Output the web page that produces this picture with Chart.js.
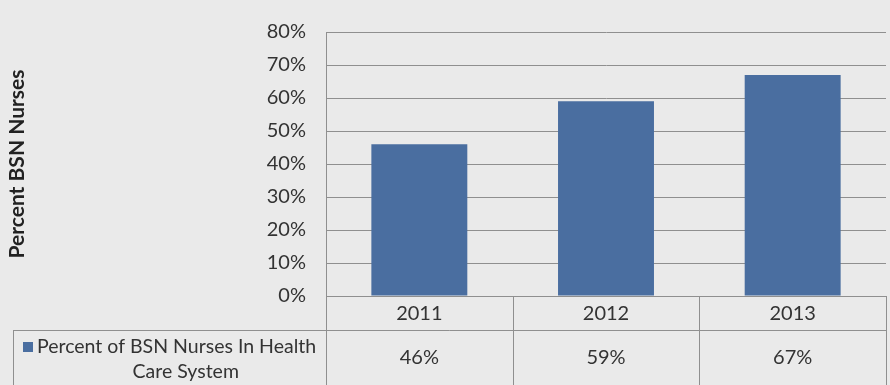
<!DOCTYPE html>
<html>
<head>
<meta charset="utf-8">
<script src="https://cdn.jsdelivr.net/npm/chart.js@4/dist/chart.umd.min.js"></script>
<style>
  html, body { margin: 0; padding: 0; background: #eaeaea; }
  #wrap { width: 890px; height: 385px; position: relative; }
</style>
</head>
<body>
<div id="wrap"><canvas id="c" width="890" height="385"></canvas></div>
<script>
// ---- data ----
const categories = ['2011', '2012', '2013'];
const values = [46, 59, 67];
const seriesName = 'Percent of BSN Nurses In Health Care System';
const legendLines = ['Percent of BSN Nurses In Health', 'Care System'];
const valueLabels = ['46%', '59%', '67%'];
const yAxisTitle = 'Percent BSN Nurses';
const yMin = 0, yMax = 80, yStep = 10;

const FONT = 'Lato, "Open Sans", sans-serif';
const TEXT = '#333333';
const LINE = '#8f8f8f';
const BAR = '#4a6ea0';

const bgPlugin = {
  id: 'bg',
  beforeDraw(chart) {
    const ctx = chart.ctx;
    ctx.save();
    ctx.fillStyle = '#eaeaea';
    ctx.fillRect(0, 0, chart.width, chart.height);
    ctx.restore();
  }
};

const tablePlugin = {
  id: 'dataTable',
  afterDraw(chart) {
    const { ctx, chartArea: ca, scales: { x } } = chart;
    const half = (x.getPixelForValue(1) - x.getPixelForValue(0)) / 2;
    const top = ca.bottom;
    const mid = top + 34;
    const bottom = chart.height + 2;
    const legendLeft = 13.5;
    ctx.save();
    ctx.strokeStyle = LINE;
    ctx.lineWidth = 1;
    ctx.beginPath();
    ctx.moveTo(ca.left, Math.round(top) + 0.5); ctx.lineTo(ca.right, Math.round(top) + 0.5);
    ctx.moveTo(legendLeft, Math.round(mid) + 0.5); ctx.lineTo(ca.right, Math.round(mid) + 0.5);
    ctx.moveTo(Math.round(ca.left) + 0.5, top); ctx.lineTo(Math.round(ca.left) + 0.5, bottom);
    ctx.moveTo(legendLeft, mid); ctx.lineTo(legendLeft, bottom);
    categories.forEach((c, i) => {
      const r = Math.round(x.getPixelForValue(i) + half) + 0.5;
      ctx.moveTo(r, top); ctx.lineTo(r, bottom);
    });
    ctx.stroke();

    ctx.fillStyle = TEXT;
    ctx.font = '20px ' + FONT;
    ctx.textAlign = 'center';
    ctx.textBaseline = 'middle';
    categories.forEach((c, i) => {
      const cx = x.getPixelForValue(i);
      ctx.fillText(c, cx, (top + mid) / 2 + 1);
      ctx.fillText(valueLabels[i], cx, (mid + chart.height) / 2 + 0);
    });
    const cellCx = (legendLeft + ca.left) / 2;
    ctx.fillStyle = BAR;
    ctx.fillRect(23, mid + 12, 10, 10);
    ctx.fillStyle = TEXT;
    ctx.font = '19.5px ' + FONT;
    ctx.textAlign = 'left';
    ctx.fillText(legendLines[0], 37, mid + 17);
    ctx.textAlign = 'center';
    ctx.fillText(legendLines[1], cellCx + 16, mid + 42);
    ctx.restore();
  }
};

new Chart(document.getElementById('c'), {
  type: 'bar',
  data: {
    labels: categories,
    datasets: [{
      label: seriesName,
      data: values,
      backgroundColor: BAR,
      borderWidth: 0,
      categoryPercentage: 1.0,
      barPercentage: 0.514
    }]
  },
  options: {
    responsive: false,
    animation: false,
    devicePixelRatio: 1,
    layout: { padding: { left: 0, top: 22, right: 4, bottom: 89 } },
    plugins: { legend: { display: false }, tooltip: { enabled: false } },
    scales: {
      x: { display: false },
      y: {
        min: yMin, max: yMax,
        afterFit(scale) { scale.width = 326; },
        ticks: {
          stepSize: yStep,
          padding: 20,
          color: TEXT,
          font: { family: FONT, size: 20 },
          callback: v => v + '%'
        },
        grid: { color: LINE, drawTicks: false, lineWidth: 1 },
        border: { display: true, color: LINE, width: 1 },
        title: {
          display: true,
          text: yAxisTitle,
          color: '#222222',
          font: { family: FONT, size: 21, weight: 'bold' },
          padding: { top: 5, bottom: 0 }
        }
      }
    }
  },
  plugins: [bgPlugin, tablePlugin]
});
</script>
</body>
</html>
